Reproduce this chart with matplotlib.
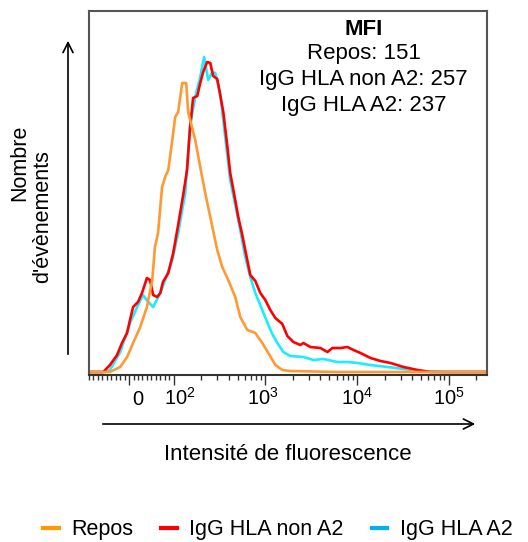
import matplotlib
matplotlib.use("Agg")
import matplotlib.pyplot as plt
from matplotlib.lines import Line2D

plt.rcParams['font.family'] = ['Liberation Sans', 'DejaVu Sans']
plt.rcParams['mathtext.fontset'] = 'custom'
plt.rcParams['mathtext.rm'] = 'Liberation Sans'

# fluorescence intensity (x) and event counts (y, arbitrary units)
repos_x = [-90, -43, -20, -4.5, 9, 25, 40, 52, 58, 65, 74, 81, 88, 97, 104, 112, 124, 137,
           144, 172, 195, 221, 251, 299, 339, 394, 470, 533, 636, 778, 927, 1079, 1286,
           1534, 1876, 6122, 262144]
repos_y = [0, 0, 5, 15, 29, 45, 65, 92, 125, 139, 185, 195, 202, 232, 255, 260, 289, 289,
           260, 232, 205, 179, 155, 122, 105, 92, 75, 55, 42, 39, 29, 19, 7,
           2, 1, 0, 0]

non_a2_x = [-90, -58, -43, -27, -16, -4.5, 2, 9, 20, 29, 40, 47, 54, 63, 70, 76, 88, 99,
            112, 127, 140, 151, 163, 181, 195, 210, 232, 251, 270, 299, 322, 348, 384, 414,
            470, 507, 561, 604, 686, 778, 882, 1000, 1134, 1286, 1534, 1739, 2023, 2413,
            2602, 3103, 3992, 4761, 5398, 6602, 7874, 9156, 10920, 14040, 18060, 23230,
            32220, 45830, 63590, 262144]
non_a2_y = [0, 0, 7, 17, 29, 39, 52, 65, 70, 79, 94, 92, 77, 75, 79, 90, 99, 119,
            147, 177, 202, 244, 274, 276, 289, 300, 310, 309, 296, 293, 277, 260, 227, 199,
            172, 155, 137, 122, 97, 91, 79, 72, 62, 54, 48, 36, 30, 27,
            29, 25, 24, 20, 24, 24, 25, 22, 19, 14, 11, 9,
            5, 2, 0, 0]

a2_x = [-90, -54, -43, -20, 2, 18, 31, 43, 54, 70, 81, 97, 112, 134, 151, 172, 195, 215,
        238, 264, 284, 322, 365, 414, 470, 533, 604, 686, 778, 927, 1079, 1193, 1352,
        1573, 1876, 2602, 3347, 4305, 6122, 7874, 10130, 14040, 21540, 32220, 49430,
        97520, 262144]
a2_y = [0, 0, 2, 20, 49, 65, 77, 70, 65, 79, 92, 112, 139, 179, 247, 275, 295, 315,
        292, 300, 299, 279, 235, 192, 167, 142, 115, 95, 79, 62, 47, 38, 29,
        20, 16, 15, 12, 13, 10, 10, 9, 7, 5, 3, 1,
        0, 0]

series_names = ['Repos', 'IgG HLA non A2', 'IgG HLA A2']
mfi_values = [151, 257, 237]

tick_values = [0, 100, 1000, 10000, 100000]
tick_labels = ['0', r'$\mathregular{10^2}$', r'$\mathregular{10^3}$',
               r'$\mathregular{10^4}$', r'$\mathregular{10^5}$']
label_shift = [6.5, 4.7, -1.5, 0, 0]  # points; the original labels sit a bit off their ticks

curve_colors = ['#FF9933', '#FF0000', '#1EEBFF']
legend_colors = ['#FF9900', '#FF0000', '#00B0F0']

fig = plt.figure(figsize=(5.28, 5.42), dpi=100)
ax = fig.add_axes([89 / 528, 1 - 374.5 / 542, 398 / 528, 363.5 / 542])

ax.plot(a2_x, a2_y, color=curve_colors[2], lw=1.9)
ax.plot(non_a2_x, non_a2_y, color=curve_colors[1], lw=1.9)
ax.plot(repos_x, repos_y, color=curve_colors[0], lw=1.9)

ax.set_xscale('symlog', linthresh=100, linscale=0.4374)
ax.set_xlim(-90, 262144)
ax.set_ylim(-2.5, 361)
ax.set_yticks([])

ax.set_xticks(tick_values)
ax.set_xticklabels([])
# tick labels drawn by hand so they can be nudged like in the original
for v, lab, dx in zip(tick_values, tick_labels, label_shift):
    ax.annotate(lab, xy=(v, 0), xycoords=ax.get_xaxis_transform(),
                xytext=(dx, -22), textcoords='offset points',
                ha='center', va='baseline', fontsize=14.5, annotation_clip=False)
minor = [v for v in range(-90, 100, 10) if v != 0]
for p in [100, 1000, 10000]:
    minor += [k * p for k in range(2, 10)]
minor.append(200000)
ax.set_xticks(minor, minor=True)
ax.tick_params(axis='x', which='major', direction='out', length=7, width=1,
               color='#333333')
ax.tick_params(axis='x', which='minor', direction='out', length=3.5, width=1,
               color='#333333')

for side in ['left', 'top', 'right']:
    ax.spines[side].set_color('#555555')
    ax.spines[side].set_linewidth(1.5)
ax.spines['bottom'].set_color('#333333')
ax.spines['bottom'].set_linewidth(1.5)

# MFI box
ax.text(0.69, 0.95, 'MFI', transform=ax.transAxes, ha='center', va='center',
        fontsize=16, fontweight='bold')
for i, (name, val) in enumerate(zip(series_names, mfi_values)):
    ax.text(0.69, 0.882 - i * 0.071, f'{name}: {val}', transform=ax.transAxes,
            ha='center', va='center', fontsize=16)

# axis arrows and labels
ax.annotate('', xy=(68 / 528, 1 - 38 / 542), xytext=(68 / 528, 1 - 357 / 542),
            xycoords='figure fraction', textcoords='figure fraction',
            arrowprops=dict(arrowstyle='->', lw=1.2, color='black', mutation_scale=18),
            annotation_clip=False)
ax.annotate('', xy=(478 / 528, 1 - 424 / 542), xytext=(100 / 528, 1 - 424 / 542),
            xycoords='figure fraction', textcoords='figure fraction',
            arrowprops=dict(arrowstyle='->', lw=1.2, color='black', mutation_scale=18),
            annotation_clip=False)

fig.text(20 / 528, 1 - 163 / 542, 'Nombre', rotation=90, ha='center', va='center',
         fontsize=15.5)
fig.text(43 / 528, 1 - 217 / 542, "d'évènements", rotation=90, ha='center', va='center',
         fontsize=15.5)
fig.text(288 / 528, 1 - 455 / 542, 'Intensité de fluorescence', ha='center', va='center',
         fontsize=16)

handles = [Line2D([], [], color=c, lw=3) for c in legend_colors]
fig.legend(handles, series_names, loc='center', bbox_to_anchor=(278 / 528, 1 - 530 / 542),
           ncol=3, frameon=False, fontsize=15.5, handlelength=0.7, handletextpad=0.6,
           columnspacing=1.3)

fig.savefig('out.png', dpi=100)
